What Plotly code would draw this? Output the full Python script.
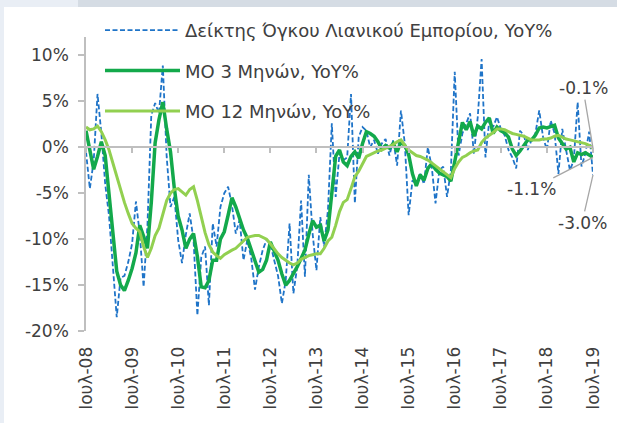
import plotly.graph_objects as go

# ---------------- data (monthly, Jul-2008 .. Jul-2019) ----------------
months = list(range(133))

retail_yoy = [
    -0.5, -4.5, -1.5, 5.8, 1.5, -4.0, -7.5, -13.5, -18.5, -14.2, -14.0, -12.5,
    -10.5, -5.9, -9.4, -15.2, -8.5, 3.5, 4.8, 3.7, 8.9, -1.0, -6.5, -5.4,
    -10.1, -12.6, -9.5, -7.2, -10.1, -18.3, -12.0, -10.8, -17.2, -8.3, -10.8, -6.5,
    -5.0, -4.3, -6.3, -9.4, -7.9, -12.3, -10.1, -12.0, -15.5, -13.0, -11.2, -10.1,
    -10.5, -12.3, -14.0, -17.0, -14.5, -8.3, -15.9, -13.0, -5.8, -14.1, -3.0, -9.4,
    -13.4, -7.6, -10.8, -6.8, 2.6, -5.4, -0.7, -1.4, -1.1, 5.8, -6.1, 1.1,
    2.2, 1.8, 0.0, 0.8, -0.7, 0.4, 0.9, -0.9, 0.8, -2.0, 4.0, 0.4,
    -7.4, -3.6, -4.0, -2.9, -4.0, 0.0, -2.1, -6.1, -2.5, -2.1, -5.4, -2.5,
    8.2, -0.9, 1.5, 2.6, 3.7, -0.7, 3.3, 9.6, -1.1, 2.9, 2.2, 3.3,
    2.0, 1.3, -0.3, -1.1, -2.3, 1.8, 1.3, -0.3, 0.8, 1.5, 4.0, 1.1,
    -0.3, 2.9, 1.5, -2.9, 2.0, -0.3, -2.5, -1.4, 4.9, -2.1, -0.7, 1.7,
    -3.0,
]

ma3_yoy = [
    1.8, -0.5, -2.4, -1.0, 0.6, -0.9, -5.0, -9.5, -13.5, -15.0, -15.6, -14.5,
    -13.2, -11.5, -8.5, -9.7, -11.0, -6.0, 0.5, 3.0, 4.9, 2.0, -0.5, -4.5,
    -7.5, -9.0, -11.0, -10.0, -9.4, -11.9, -15.2, -15.3, -14.5, -12.3, -12.3, -10.0,
    -9.2, -7.4, -5.5, -6.5, -7.8, -9.0, -9.9, -11.2, -12.5, -13.6, -13.3, -12.3,
    -10.3, -11.2, -12.3, -13.8, -15.0, -14.5, -13.8, -13.0, -12.1, -11.2, -9.5, -8.0,
    -8.7, -8.5, -10.2, -9.0, -5.0, -1.0, -0.3, -1.6, -2.0, -1.0, -0.5, -1.2,
    0.4, 1.7, 1.5, 1.2, 0.6, -0.2, 0.2, -0.1, 0.4, -0.5, 0.6, 0.2,
    -0.8, -2.9, -4.2, -3.0, -3.6, -2.3, -1.8, -2.4, -2.8, -3.0, -3.2, -3.7,
    -1.5, 0.5, 2.7, 1.9, 2.8, 1.2, 2.3, 2.0, 2.7, 3.2, 1.5, 2.2,
    1.8, 1.6, 1.1, -0.2, -0.9, -0.4, 0.2, 0.8, 0.8, 1.3, 2.1, 2.2,
    2.1, 2.3, 2.4, 1.0, 0.4, -0.2, 0.0, -1.6, -0.6, -0.8, -0.6, -0.9,
    -1.1,
]

ma12_yoy = [
    2.2, 1.9, 2.0, 2.3, 1.7, 0.8, -0.3, -1.8, -3.2, -4.6, -6.0, -7.2,
    -8.3, -8.8, -9.2, -10.8, -12.0, -11.0, -9.6, -8.8, -7.2, -5.8, -5.0, -4.6,
    -4.5, -4.8, -5.2, -4.6, -4.3, -5.8, -7.5, -9.3, -10.6, -11.4, -11.8, -12.1,
    -11.7, -11.4, -11.2, -11.0, -10.6, -10.1, -9.8, -9.7, -9.6, -9.6, -9.8, -10.0,
    -10.5, -11.1, -11.6, -12.0, -12.3, -12.6, -12.8, -12.6, -12.2, -12.0, -11.8, -11.7,
    -11.6, -11.6, -11.0, -10.2, -9.8, -8.5, -7.0, -6.0, -5.7, -4.5, -3.2, -2.6,
    -1.8, -1.0, -0.8, -0.6, -0.4, -0.3, -0.1, 0.1, 0.3, 0.6, 0.8, 0.2,
    -0.3, -0.6, -0.9, -1.0, -1.2, -1.4, -1.7, -2.0, -2.3, -2.6, -2.9, -3.3,
    -2.3, -1.6, -1.1, -0.9, -0.6, -0.4, -0.3, 0.5, 1.0, 1.3, 1.6, 2.0,
    2.0, 1.9, 1.7, 1.5, 1.4, 1.3, 1.2, 1.0, 0.8, 0.8, 0.8, 0.9,
    0.9, 1.0, 1.2, 1.3, 1.1, 0.9, 0.8, 0.7, 0.6, 0.5, 0.4, 0.2,
    -0.1,
]

tick_months = [0, 12, 24, 36, 48, 60, 72, 84, 96, 108, 120, 132]
tick_labels = ["Ιουλ-08", "Ιουλ-09", "Ιουλ-10", "Ιουλ-11", "Ιουλ-12", "Ιουλ-13",
               "Ιουλ-14", "Ιουλ-15", "Ιουλ-16", "Ιουλ-17", "Ιουλ-18", "Ιουλ-19"]
y_ticks = [-20, -15, -10, -5, 0, 5, 10]
y_labels = ["-20%", "-15%", "-10%", "-5%", "0%", "5%", "10%"]

names = ["Δείκτης Όγκου Λιανικού Εμπορίου, YoY%", "ΜΟ 3 Μηνών, YoY%", "ΜΟ 12 Μηνών, YoY%"]

FONT = "DejaVu Sans"
TXT = "#404040"
GRID = "#bfbfbf"

fig = go.Figure()
fig.add_trace(go.Scatter(x=months, y=retail_yoy, name=names[0], mode="lines",
                         legendgroup="a",
                         line=dict(color="#1f74c8", width=1.8, dash="5px,2.5px")))
fig.add_trace(go.Scatter(x=months, y=ma3_yoy, name=names[1], mode="lines",
                         legendgroup="b",
                         line=dict(color="#13a94b", width=3.5)))
fig.add_trace(go.Scatter(x=months, y=ma12_yoy, name=names[2], mode="lines",
                         legendgroup="c",
                         line=dict(color="#92d050", width=3)))
# helper (invisible) trace for the axis drawn along the zero line
fig.add_trace(go.Scatter(x=[months[0], months[-1]], y=[0, 0], xaxis="x2", mode="lines",
                         line=dict(width=0), showlegend=False, hoverinfo="skip"))

last = months[-1]
ann = [
    (ma12_yoy[-1], -10, -60),
    (ma3_yoy[-1], -62, 32),
    (retail_yoy[-1], -11, 48),
]
annotations = []
for val, ax, ay in ann:
    annotations.append(dict(x=last, y=val, xref="x", yref="y", ax=ax, ay=ay,
                            text=f"{val:.1f}%", showarrow=True, arrowhead=0,
                            arrowwidth=1.3, arrowcolor="#a6a6a6",
                            font=dict(family=FONT, size=17, color=TXT)))

PW, PH, L, T = 507, 294, 86, 37


def px_x(p):
    return (p - L) / PW


def px_y(p):
    return (T + PH - p) / PH


frame = [
    dict(type="rect", xref="paper", yref="paper", layer="above",
         x0=px_x(0), x1=px_x(4), y0=px_y(423), y1=px_y(0), line=dict(width=0), fillcolor="#e9eef5"),
    dict(type="rect", xref="paper", yref="paper", layer="above",
         x0=px_x(0), x1=px_x(78), y0=px_y(7), y1=px_y(0), line=dict(width=0), fillcolor="#e9eef5"),
    dict(type="rect", xref="paper", yref="paper", layer="above",
         x0=px_x(78), x1=px_x(617), y0=px_y(7), y1=px_y(0), line=dict(width=0), fillcolor="#d5dce4"),
]

fig.update_layout(
    width=617, height=423,
    margin=dict(l=L, r=617 - L - PW, t=T, b=423 - T - PH),
    paper_bgcolor="white", plot_bgcolor="white",
    font=dict(family=FONT, size=17, color=TXT),
    showlegend=True,
    legend=dict(x=px_x(100), y=px_y(12), xanchor="left", yanchor="top",
                bgcolor="rgba(0,0,0,0)", tracegroupgap=14, itemwidth=75,
                font=dict(family=FONT, size=18, color=TXT)),
    xaxis=dict(range=[0, 132], tickmode="array", tickvals=tick_months, ticktext=tick_labels,
               tickangle=-90, showgrid=False, zeroline=False, showline=False,
               ticks="outside", ticklen=8, tickcolor="rgba(0,0,0,0)",
               tickfont=dict(family=FONT, size=17, color=TXT)),
    xaxis2=dict(range=[0, 132], overlaying="x", anchor="free", position=20 / 32,
                tickmode="array", tickvals=tick_months, showticklabels=False,
                showgrid=False, zeroline=False, showline=True, linecolor=GRID, linewidth=1.5,
                ticks="outside", ticklen=5, tickcolor=GRID, tickwidth=1.5),
    yaxis=dict(range=[-20, 12], tickmode="array", tickvals=y_ticks, ticktext=y_labels,
               showgrid=False, zeroline=False, showline=True, linecolor=GRID, linewidth=1.5,
               ticks="outside", ticklen=6, tickcolor=GRID, tickwidth=1.5,
               ticklabelstandoff=6,
               tickfont=dict(family=FONT, size=17, color=TXT)),
    annotations=annotations,
    shapes=frame,
)

fig.write_html("out.html", config={"displayModeBar": False},
               post_script="document.body.style.margin='0';")
